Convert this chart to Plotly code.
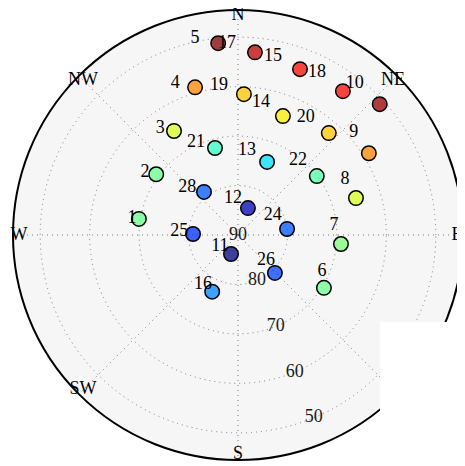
import numpy as np
import plotly.graph_objects as go

# ---- data ----
prn = [1, 2, 3, 4, 5, 6, 7, 8, 9, 10, 11, 12, 13, 14, 15, 16, 17, 18, 19, 20, 21, 22, 24, 25, 26, 28]
azimuth = [279.2, 306.6, 328.4, 343.8, 354.1, 121.6, 95.0, 72.6, 58.0, 47.3, 200.2, 20.3, 21.7,
           20.7, 20.5, 204.5, 5.3, 36.1, 2.4, 41.7, 345.2, 53.2, 83.0, 271.3, 135.8, 321.7]
elevation = [69.7, 69.4, 65.3, 58.9, 51.0, 69.6, 69.1, 65.0, 58.8, 51.0, 85.9, 84.2, 74.1,
             64.3, 54.2, 77.4, 52.9, 54.0, 61.5, 62.4, 71.8, 70.1, 80.0, 80.9, 79.3, 78.9]
value = [0.48, 0.48, 0.61, 0.77, 1.0, 0.48, 0.50, 0.61, 0.77, 0.98, 0.0, 0.05, 0.34,
         0.66, 0.90, 0.255, 0.95, 0.90, 0.70, 0.70, 0.41, 0.45, 0.21, 0.17, 0.19, 0.21]
label_az = [279.1, 303.7, 323.7, 337.5, 347.7, 113.2, 84.1, 62.4, 48.4, 37.6, 238.6, 352.3, 6.1,
            9.9, 11.1, 215.5, 356.7, 25.9, 352.8, 29.9, 335.7, 38.7, 60.3, 273.9, 131.8, 313.3]
label_el = [68.3, 67.4, 63.4, 56.8, 49.3, 71.5, 70.5, 65.6, 58.7, 51.3, 85.7, 82.5, 72.9,
            62.9, 53.2, 77.8, 51.2, 53.4, 59.5, 62.5, 69.4, 70.6, 81.9, 78.1, 82.4, 75.9]

compass_angles = [0, 45, 90, 135, 180, 225, 270, 315]
compass_labels = ["N", "NE", "E", "SE", "S", "SW", "W", "NW"]
ring_elevations = [90, 80, 70, 60, 50]
ring_labels = ["90", "80", "70", "60", "50"]

# ---- matplotlib "jet" colormap as a plotly colorscale (semi transparent) ----
def jet(v):
    r = np.interp(v, [0, 0.35, 0.66, 0.89, 1], [0, 0, 1, 1, 0.5])
    g = np.interp(v, [0, 0.125, 0.375, 0.64, 0.91, 1], [0, 0, 1, 1, 0, 0])
    b = np.interp(v, [0, 0.11, 0.34, 0.65, 1], [0.5, 1, 1, 0, 0])
    return r, g, b

stops = np.linspace(0, 1, 41)
jet_scale = []
for s in stops:
    r, g, b = jet(s)
    jet_scale.append([float(s), "rgba(%d,%d,%d,0.75)" % (round(r * 255), round(g * 255), round(b * 255))])

zen = [90 - e for e in elevation]
label_zen = [90 - e for e in label_el]
ring_zen = [90 - e for e in ring_elevations]

serif = "Liberation Serif"

fig = go.Figure()

fig.add_trace(go.Scatterpolar(
    r=zen, theta=azimuth, mode="markers",
    marker=dict(size=14.5, color=value, colorscale=jet_scale, cmin=0, cmax=1,
                line=dict(color="black", width=1.5)),
    hoverinfo="skip", cliponaxis=False,
))

fig.add_trace(go.Scatterpolar(
    r=label_zen, theta=label_az, mode="text", text=[str(p) for p in prn],
    textposition="middle center",
    textfont=dict(family=serif, size=18, color="#000000"),
    hoverinfo="skip", cliponaxis=False,
))

fig.add_trace(go.Scatterpolar(
    r=ring_zen, theta=[157.5] * len(ring_zen), mode="text", text=ring_labels,
    textposition="middle center",
    textfont=dict(family=serif, size=18, color="#1a1a1a"),
    hoverinfo="skip", cliponaxis=False,
))

fig.add_trace(go.Scatterpolar(
    r=[44.3] * len(compass_angles), theta=compass_angles, mode="text", text=compass_labels,
    textposition="middle center",
    textfont=dict(family=serif, size=18, color="#000000"),
    hoverinfo="skip", cliponaxis=False,
))

# page has an 8px body margin: figure is laid out in its own pixel frame
W, H = 457, 458
cx, cy, R = 230, 227, 225

fig.update_layout(
    width=W, height=H,
    margin=dict(l=0, r=0, t=0, b=0),
    paper_bgcolor="white",
    showlegend=False,
    font=dict(family=serif, size=18, color="#000000"),
    polar=dict(
        domain=dict(x=[(cx - R) / W, (cx + R) / W], y=[1 - (cy + R) / H, 1 - (cy - R) / H]),
        bgcolor="#f6f6f6",
        radialaxis=dict(range=[0, 45.5], tickvals=[10, 20, 30, 40], showticklabels=False,
                        ticks="", showline=False, gridcolor="#7a7a7a", gridwidth=1,
                        griddash="1px,4px"),
        angularaxis=dict(direction="clockwise", rotation=90, tickvals=compass_angles,
                         showticklabels=False, ticks="", showline=True, linecolor="black",
                         linewidth=2, gridcolor="#7a7a7a", gridwidth=1, griddash="1px,4px"),
    ),
    shapes=[dict(type="rect", xref="paper", yref="paper", layer="above",
                 x0=372 / W, x1=1.0, y0=1 - 403 / H, y1=1 - 314 / H,
                 fillcolor="white", line=dict(width=0))],
)

fig.write_html("out.html")
